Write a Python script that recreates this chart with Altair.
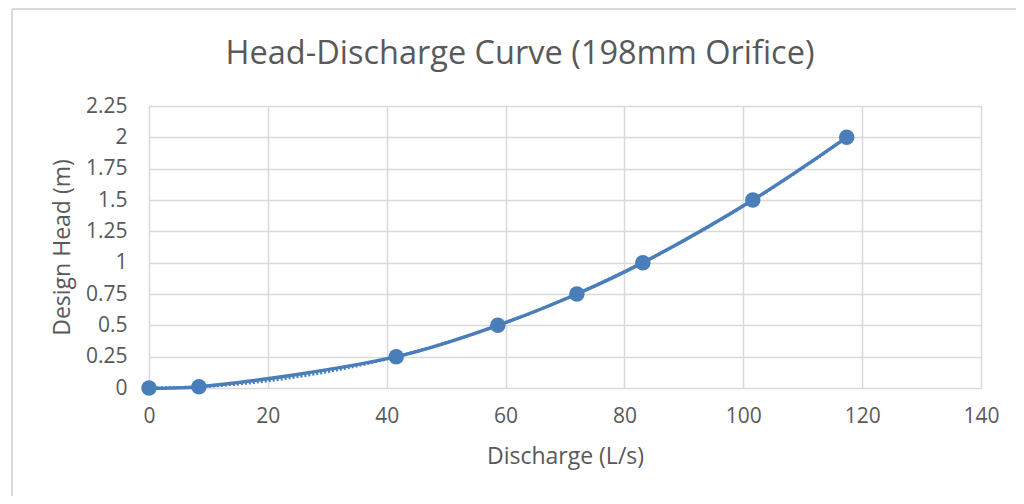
import altair as alt
import pandas as pd

# Data
discharge = [0, 8.4, 41.6, 58.7, 72.0, 83.1, 101.6, 117.4]
head = [0, 0.01, 0.25, 0.5, 0.75, 1.0, 1.5, 2.0]
x_ticks = [0, 20, 40, 60, 80, 100, 120, 140]
y_ticks = [0, 0.25, 0.5, 0.75, 1, 1.25, 1.5, 1.75, 2, 2.25]

df = pd.DataFrame({"Discharge": discharge, "Head": head})
frame_df = pd.DataFrame({"k": [0]})

BLUE = "#4a7ebb"
TEXT = "#595959"
GRID = "#d9d9d9"
FONT = "Open Sans"

x = alt.X(
    "Discharge:Q",
    scale=alt.Scale(domain=[0, 140], nice=False, zero=True),
    axis=alt.Axis(
        values=x_ticks, title="Discharge (L/s)", grid=True, domain=False,
        ticks=False, tickSize=0, labelPadding=17, titlePadding=19,
        labelFlush=False,
        labelFontSize=21, titleFontSize=23, labelFont=FONT, titleFont=FONT,
        labelColor=TEXT, titleColor=TEXT, titleFontWeight="normal",
        gridColor=GRID, gridWidth=1.5,
    ),
)
y = alt.Y(
    "Head:Q",
    scale=alt.Scale(domain=[0, 2.25], nice=False),
    axis=alt.Axis(
        values=y_ticks, labelExpr="'' + datum.value", title="Design Head (m)",
        grid=True, domain=False, ticks=False, tickSize=0, labelPadding=22,
        titlePadding=11, labelFontSize=21, titleFontSize=23, labelFont=FONT,
        titleFont=FONT, labelColor=TEXT, titleColor=TEXT,
        titleFontWeight="normal", gridColor=GRID, gridWidth=1.5,
    ),
)

base = alt.Chart(df).encode(x=x, y=y)

trend = base.transform_regression(
    "Discharge", "Head", method="poly", order=2
).mark_line(color=BLUE, strokeWidth=3, strokeDash=[2, 2])

line = base.mark_line(color=BLUE, strokeWidth=3.5, interpolate="catmull-rom")

pts = base.mark_circle(color=BLUE, size=240, opacity=1)

frame_top = alt.Chart(frame_df).mark_rule(color=GRID, strokeWidth=2).encode(
    x=alt.value(-137), x2=alt.value(880), y=alt.value(-97)
)
frame_left = alt.Chart(frame_df).mark_rule(color=GRID, strokeWidth=2).encode(
    x=alt.value(-137), y=alt.value(-97), y2=alt.value(400)
)

chart = (
    alt.layer(frame_top, frame_left, trend, line, pts)
    .properties(
        width=832,
        height=282,
        autosize=alt.AutoSizeParams(type="none"),
        padding={"left": 141, "top": 98, "right": 35, "bottom": 108},
        title=alt.TitleParams(
            "Head-Discharge Curve (198mm Orifice)",
            fontSize=32.5, font=FONT, fontWeight="normal", color=TEXT,
            anchor="middle", frame="group", dx=-45, dy=62, offset=0,
        ),
        background="white",
    )
    .configure_view(stroke=None)
)

chart.save("out.html", embed_options={"renderer": "svg", "actions": False})
